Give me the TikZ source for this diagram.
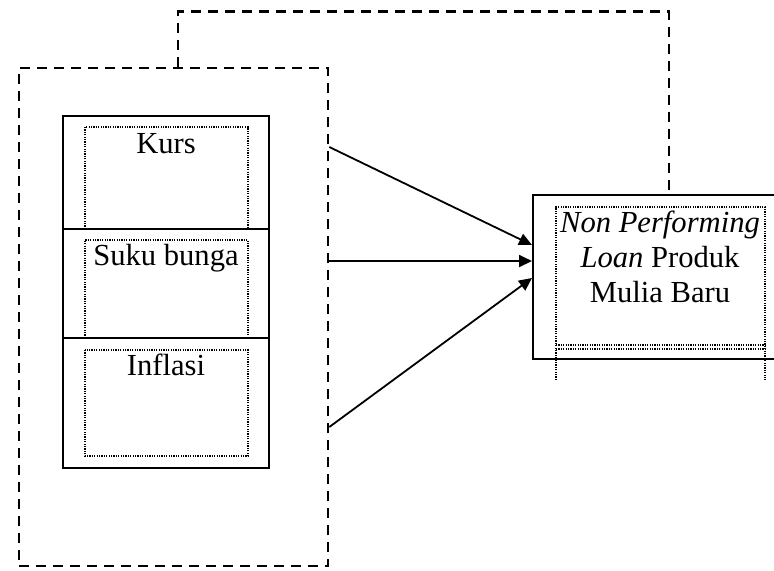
\documentclass[tikz,border=0pt]{standalone}
\usepackage{fontspec}
\setmainfont{Liberation Serif}
\usetikzlibrary{arrows.meta}

\tikzset{
  dashline/.style={line width=1.3pt, dash pattern=on 5pt off 3.5pt},
  dotline/.style={line width=0.7pt, dash pattern=on 0.6pt off 0.6pt},
  solidbox/.style={draw, line width=1pt, minimum width=103pt, inner sep=0pt},
  lbl/.style={font=\fontsize{15.3}{17.5}\selectfont, inner sep=0pt, anchor=base},
  panah/.style={-{Triangle[length=6.5pt,width=6pt]}, line width=0.9pt}
}

\begin{document}
\begin{tikzpicture}[x=0.5pt,y=-0.5pt]
  \useasboundingbox (0,0) rectangle (774,570);

  % Kotak putus-putus luar
  \node[draw, dashline, minimum width=154.5pt, minimum height=249pt, inner sep=0pt]
    (grp) at (173.5,317) {};

  % Kotak variabel bebas
  \node[solidbox, minimum height=56.5pt] (kurs) at (166,172.5) {};
  \node[solidbox, minimum height=54.5pt] (suku) at (166,283.5) {};
  \node[solidbox, minimum height=65pt] (inflasi) at (166,403) {};

  % Kotak titik-titik
  \draw[dotline] (85,229) -- (85,127) -- (248,127) -- (248,229);
  \draw[dotline] (85,338) -- (85,240) -- (248,240) -- (248,338);
  \draw[dotline] (85,350) rectangle (248,456);

  % Label
  \node[lbl] (kursT) at (166,153) {Kurs};
  \node[lbl] (sukuT) at (166,265) {Suku bunga};
  \node[lbl] (inflasiT) at (166,375) {Inflasi};

  % Kotak variabel terikat
  \node[draw, line width=1pt, minimum width=122.5pt, minimum height=82pt, inner sep=0pt]
    (npl) at (655.5,277) {};
  \draw[dotline] (556,380) -- (556,207) -- (765,207) -- (765,380);
  \draw[dotline] (556,345) -- (765,345);
  \draw[dotline] (556,349) -- (765,349);
  \node[lbl, align=center] (nplT) at (660,302)
    {\textit{Non Performing}\\\textit{Loan} Produk\\Mulia Baru};

  % Panah
  \draw[panah] ([yshift=85pt]grp.east) -- ([yshift=16pt]npl.west);
  \draw[panah] ([yshift=28pt]grp.east) -- ([yshift=8pt]npl.west);
  \draw[panah] ([yshift=-55pt]grp.east) -- ([yshift=-0.5pt]npl.west);

  % Garis umpan balik
  \draw[dashline] ([xshift=2.25pt]grp.north) -- ++(0,-55) -| ([xshift=6.75pt]npl.north);
\end{tikzpicture}
\end{document}
